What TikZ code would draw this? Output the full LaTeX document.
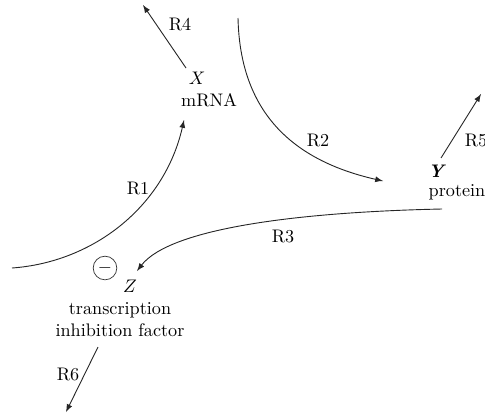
\documentclass[tikz,border=0pt]{standalone}
\begin{document}
\begin{tikzpicture}[x=0.55pt,y=-0.55pt,
    rxn/.style={draw=black!85, line width=0.5pt, -latex},
    lbl/.style={font=\normalsize, inner sep=1pt}]
            \useasboundingbox (0,0) rectangle (485,419);
            % Species labels
            \node[lbl] (xsym) at (197,78) {$X$};
            \node[lbl] (xname) at (209,100) {mRNA};
            \node[lbl] (ysym) at (437,171) {\textbf{\textit{Y}}};
            \node[lbl] (yname) at (457,192) {protein};
            \node[lbl] (zsym) at (130,286) {$Z$};
            \node[lbl, align=center] (zname) at (120,320) {transcription\\inhibition factor};
            % Inhibition mark
            \node[draw=black!80, circle, minimum size=13pt, inner sep=0pt] (inh) at (105,268) {$-$};
            % End points of the reactions
            \coordinate (r1s) at (12,268);
            \coordinate (r1e) at (184,120);
            \coordinate (r2s) at (238,18);
            \coordinate (r2e) at (383,181);
            \coordinate (r3s) at (442,209);
            \coordinate (r3e) at (137,271);
            \coordinate (r4s) at (186,68);
            \coordinate (r4e) at (143,5);
            \coordinate (r5s) at (441,158);
            \coordinate (r5e) at (481,94);
            \coordinate (r6s) at (98,347);
            \coordinate (r6e) at (66,412);
            % Reactions
            \draw[rxn] (r1s) .. controls (95,262) and (165,205) .. (r1e);
            \draw[rxn] (r2s) .. controls (240,110) and (290,160) .. (r2e);
            \draw[rxn] (r3s) .. controls (300,212) and (170,228) .. (r3e);
            \draw[rxn] (r4s) -- (r4e);
            \draw[rxn] (r5s) -- (r5e);
            \draw[rxn] (r6s) -- (r6e);
            % Reaction names
            \node[lbl] (r1) at (138,188) {R1};
            \node[lbl] (r2) at (318,140) {R2};
            \node[lbl] (r3) at (283,236) {R3};
            \node[lbl] (r4) at (180,24) {R4};
            \node[lbl] (r5) at (476,140) {R5};
            \node[lbl] (r6) at (68,374) {R6};
        \end{tikzpicture}
\end{document}
